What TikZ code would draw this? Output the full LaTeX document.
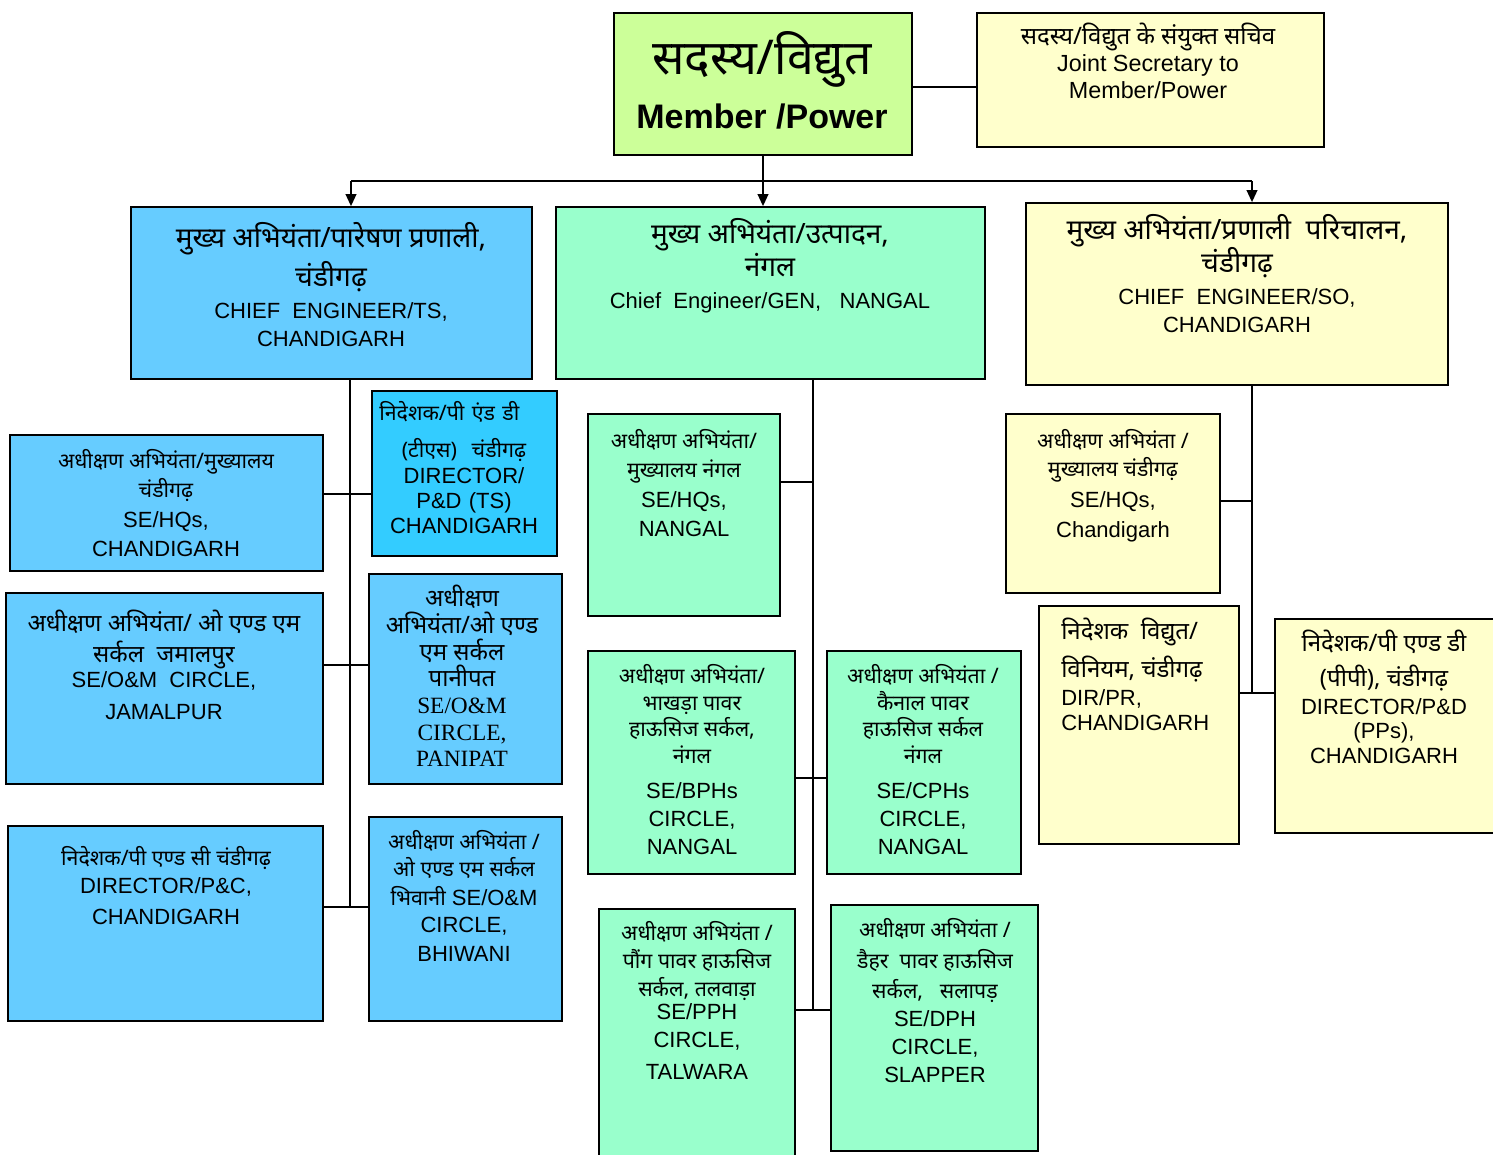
\documentclass[tikz,border=0pt]{standalone}
\usepackage{fontspec}
\setmainfont{Liberation Sans}
\newfontfamily\hindi[Script=Devanagari]{Noto Sans}
\newfontfamily\timesf{Liberation Serif}
\usetikzlibrary{fit,arrows.meta}
\definecolor{memgreen}{RGB}{204,255,153}
\definecolor{paleyel}{RGB}{255,255,204}
\definecolor{tsblue}{RGB}{102,204,255}
\definecolor{dirblue}{RGB}{51,204,255}
\definecolor{genmint}{RGB}{153,255,204}
\newcommand{\hin}[2][16]{{\hindi\fontsize{#1}{21}\selectfont #2}}
\newcommand{\tms}[1]{{\timesf\fontsize{17.5}{21}\selectfont #1}}
\newcommand{\fixlines}{\lineskiplimit=-100pt\relax}
\tikzset{
  orgbox/.style={draw=black, line width=1.3pt, inner sep=0pt, rectangle},
  boxtext/.style={anchor=north, align=center, inner sep=0pt,
    font={\fontsize{16.5}{21}\selectfont\fixlines}},
  link/.style={line width=1.3pt},
  down/.style={link, -{Triangle[length=9pt,width=8pt]}}
}
\begin{document}
\begin{tikzpicture}[x=0.75pt,y=0.75pt,yscale=-1,xscale=1]
\useasboundingbox (0,0) rectangle (1493,1154);
\fill[white] (0,0) rectangle (1493,1154);

%Shape: Rectangle top
\node[orgbox, fill=memgreen, fit={(614,13) (912,155)}] (member) {};
\node[orgbox, fill=paleyel, fit={(977,13) (1324,147)}] (jsec) {};
%Shape: Rectangle chief engineers
\node[orgbox, fill=tsblue, fit={(131,207) (532,379)}] (cets) {};
\node[orgbox, fill=genmint, fit={(556,207) (985,379)}] (cegen) {};
\node[orgbox, fill=paleyel, fit={(1026,203) (1448,385)}] (ceso) {};
%Shape: Rectangle TS column
\node[orgbox, fill=tsblue, fit={(10,435) (323,571)}] (tshq) {};
\node[orgbox, fill=dirblue, fit={(372,391) (557,556)}] (tsdir) {};
\node[orgbox, fill=tsblue, fit={(6,593) (323,784)}] (jamalpur) {};
\node[orgbox, fill=tsblue, fit={(369,574) (562,784)}] (panipat) {};
\node[orgbox, fill=tsblue, fit={(8,826) (323,1021)}] (pc) {};
\node[orgbox, fill=tsblue, fit={(369,817) (562,1021)}] (bhiwani) {};
%Shape: Rectangle GEN column
\node[orgbox, fill=genmint, fit={(588,414) (780,616)}] (genhq) {};
\node[orgbox, fill=genmint, fit={(588,651) (795,874)}] (bphs) {};
\node[orgbox, fill=genmint, fit={(827,651) (1021,874)}] (cphs) {};
\node[orgbox, fill=genmint, fit={(599,909) (795,1160)}] (pph) {};
\node[orgbox, fill=genmint, fit={(831,905) (1038,1151)}] (dph) {};
%Shape: Rectangle SO column
\node[orgbox, fill=paleyel, fit={(1006,414) (1220,593)}] (sohq) {};
\node[orgbox, fill=paleyel, fit={(1039,606) (1239,844)}] (dirpr) {};
\node[orgbox, fill=paleyel, fit={(1275,619) (1499,833)}] (dirpp) {};

%Straight Lines top
\coordinate (barL) at (351,181);
\coordinate (barR) at (1252,181);
\draw[link] (member.east |- 0,87) -- (jsec.west |- 0,87);
\draw[down] (member.south) -- (member.south |- cegen.north);
\draw[link] (barL) -- (barR);
\draw[down] (barL) -- (barL |- cets.north);
\draw[down] (barR) -- (barR |- ceso.north);

%Straight Lines TS
\coordinate (tsb1) at (350,494);
\coordinate (tsb2) at (350,665);
\coordinate (tsb3) at (350,907);
\draw[link] (tsb3 |- cets.south) -- (tsb3);
\draw[link] (tshq.east |- tsb1) -- (tsdir.west |- tsb1);
\draw[link] (jamalpur.east |- tsb2) -- (panipat.west |- tsb2);
\draw[link] (pc.east |- tsb3) -- (bhiwani.west |- tsb3);

%Straight Lines GEN
\coordinate (genb1) at (813,482);
\coordinate (genb2) at (813,778);
\coordinate (genb3) at (813,1010);
\draw[link] (genb3 |- cegen.south) -- (genb3);
\draw[link] (genhq.east |- genb1) -- (genb1);
\draw[link] (bphs.east |- genb2) -- (cphs.west |- genb2);
\draw[link] (pph.east |- genb3) -- (dph.west |- genb3);

%Straight Lines SO
\coordinate (sob1) at (1252,501);
\coordinate (sob2) at (1252,693);
\draw[link] (sob2 |- ceso.south) -- (sob2);
\draw[link] (sohq.east |- sob1) -- (sob1);
\draw[link] (dirpr.east |- sob2) -- (dirpp.west |- sob2);

% Text Node
\node[boxtext] (memberT) at (762,31) {{\hindi\bfseries\fontsize{36}{36}\selectfont सदस्य/विद्युत}\\[20pt] {\bfseries\fontsize{25.5}{30}\selectfont Member /Power}};
% Text Node
\node[boxtext, font={\fontsize{17.5}{20}\selectfont\fixlines}] (jsecT) at (1148,23) {\hin[18]{सदस्य/विद्युत के संयुक्त सचिव}\\ Joint Secretary to\\ Member/Power};
% Text Node
\node[boxtext] (cetsT) at (331,222) {\hin[21]{मुख्य अभियंता/पारेषण प्रणाली,}\\[8pt] \hin[21]{चंडीगढ़}\\[3pt] CHIEF~~ENGINEER/TS,\\ CHANDIGARH};
% Text Node
\node[boxtext] (cegenT) at (770,218) {\hin[21]{मुख्य अभियंता/उत्पादन,}\\[4pt] \hin[21]{नंगल}\\[3pt] Chief~~Engineer/GEN,~~~NANGAL};
% Text Node
\node[boxtext] (cesoT) at (1237,214) {\hin[21]{मुख्य अभियंता/प्रणाली~~परिचालन,}\\[4pt] \hin[21]{चंडीगढ़}\\[3pt] CHIEF~~ENGINEER/SO,\\ CHANDIGARH};

% Text Node
\node[boxtext] (tshqT) at (166,449) {\hin{अधीक्षण अभियंता/मुख्यालय}\\[1pt] \hin{चंडीगढ़}\\[1pt] SE/HQs,\\[1pt] CHANDIGARH};
% Text Node
\node[boxtext, text width=127pt] (tsdirT) at (464,401) {\hin{निदेशक/पी एंड डी}\hfill\null\\[7pt] \hin{(टीएस)~ चंडीगढ़}\\[-2pt] DIRECTOR/\\[-2pt] P\&D (TS)\\[-2pt] CHANDIGARH};
% Text Node
\node[boxtext] (jamalpurT) at (164,610) {\hin[18]{अधीक्षण अभियंता/ ओ एण्ड एम}\\[2pt] \hin[18]{सर्कल~ जमालपुर}\\[-2pt] SE/O\&M~~CIRCLE,\\[3pt] JAMALPUR};
% Text Node
\node[boxtext] (panipatT) at (462,585) {\hin[18]{अधीक्षण}\\[-1pt] \hin[18]{अभियंता/ओ एण्ड}\\[-1pt] \hin[18]{एम सर्कल}\\[-1pt] \hin[18]{पानीपत}\\[-1pt] \tms{SE/O\&M}\\[-1pt] \tms{CIRCLE,}\\[-1pt] \tms{PANIPAT}};
% Text Node
\node[boxtext] (pcT) at (166,846) {\hin{निदेशक/पी एण्ड सी चंडीगढ़}\\ DIRECTOR/P\&C,\\[2pt] CHANDIGARH};
% Text Node
\node[boxtext] (bhiwaniT) at (464,830) {\hin{अधीक्षण अभियंता /}\\[-1pt] \hin{ओ एण्ड एम सर्कल}\\[1pt] \hin{भिवानी} SE/O\&M\\[-1pt] CIRCLE,\\[1pt] BHIWANI};

% Text Node
\node[boxtext] (genhqT) at (684,429) {\hin{अधीक्षण अभियंता/}\\[1pt] \hin{मुख्यालय नंगल}\\[1pt] SE/HQs,\\[1pt] NANGAL};
% Text Node
\node[boxtext] (bphsT) at (692,664) {\hin{अधीक्षण अभियंता/}\\[-1pt] \hin{भाखड़ा पावर}\\[-1pt] \hin{हाऊसिज सर्कल,}\\[-1pt] \hin{नंगल}\\[5pt] SE/BPHs\\ CIRCLE,\\ NANGAL};
% Text Node
\node[boxtext] (cphsT) at (923,664) {\hin{अधीक्षण अभियंता /}\\[-1pt] \hin{कैनाल पावर}\\[-1pt] \hin{हाऊसिज सर्कल}\\[-1pt] \hin{नंगल}\\[5pt] SE/CPHs\\ CIRCLE,\\ NANGAL};
% Text Node
\node[boxtext] (pphT) at (697,921) {\hin{अधीक्षण अभियंता /}\\ \hin{पौंग पावर हाऊसिज}\\ \hin{सर्कल, तलवाड़ा}\\[-4pt] SE/PPH\\ CIRCLE,\\[3pt] TALWARA};
% Text Node
\node[boxtext] (dphT) at (935,918) {\hin{अधीक्षण अभियंता /}\\[2pt] \hin{डैहर~ पावर हाऊसिज}\\[2pt] \hin{सर्कल,~~ सलापड़}\\ SE/DPH\\ CIRCLE,\\ SLAPPER};

% Text Node
\node[boxtext] (sohqT) at (1113,429) {\hin{अधीक्षण अभियंता /}\\ \hin{मुख्यालय चंडीगढ़}\\[2pt] SE/HQs,\\[2pt] Chandigarh};
% Text Node
\node[boxtext, anchor=north west, align=left] (dirprT) at (1061,618) {\hin[18]{निदेशक~ विद्युत/}\\[7pt] \hin[18]{विनियम, चंडीगढ़}\\ DIR/PR,\\[-2pt] CHANDIGARH};
% Text Node
\node[boxtext] (dirppT) at (1384,630) {\hin[18]{निदेशक/पी एण्ड डी}\\[5pt] \hin[18]{(पीपी), चंडीगढ़}\\ DIRECTOR/P\&D\\[-3pt] (PPs),\\[-2pt] CHANDIGARH};
\end{tikzpicture}
\end{document}
